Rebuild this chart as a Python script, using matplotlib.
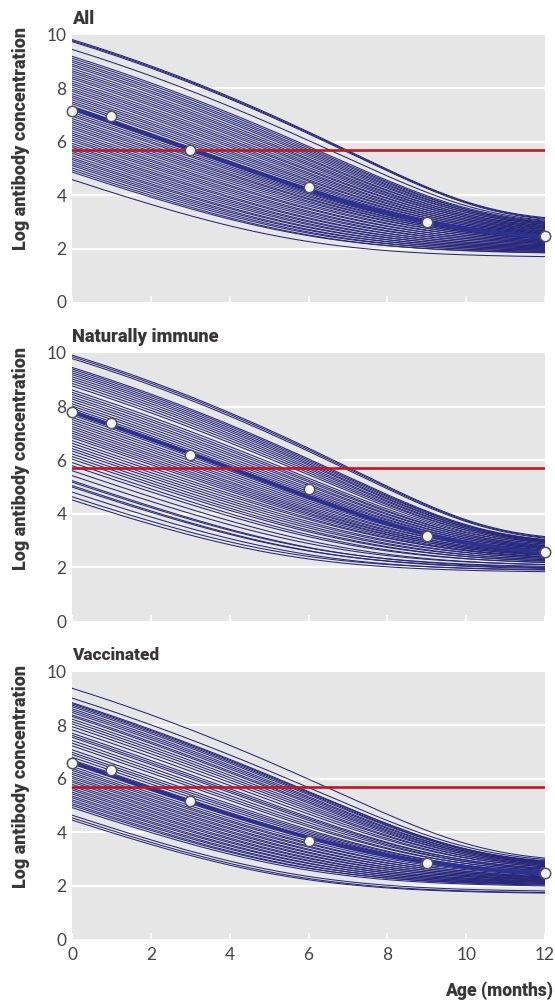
import re
import numpy as np
import matplotlib
matplotlib.use("Agg")
import matplotlib.pyplot as plt
from matplotlib import font_manager as fm
from matplotlib.ft2font import FT2Font

# ---------------- data ----------------
panel_titles = ["All", "Naturally immune", "Vaccinated"]

obs_ages = [0, 1, 3, 6, 9, 12]
obs_all = [7.15, 6.95, 5.68, 4.32, 3.00, 2.48]
obs_nat = [7.80, 7.40, 6.20, 4.92, 3.16, 2.56]
obs_vac = [6.60, 6.33, 5.17, 3.67, 2.86, 2.47]

threshold = 5.7

# individual curves: value at age 0 and at age 12
all_start = [9.83, 9.79, 9.75, 9.46, 9.20, 9.13, 9.05, 8.98, 8.90, 8.83, 8.74, 8.66, 8.59, 8.51,
             8.43, 8.36, 8.27, 8.19, 8.12, 8.04, 7.96, 7.89, 7.80, 7.72, 7.65, 7.57, 7.49, 7.42,
             7.33, 7.25, 7.18, 7.10, 7.02, 6.95, 6.86, 6.78, 6.71, 6.63, 6.55, 6.48, 6.39, 6.31,
             6.24, 6.16, 6.08, 6.01, 5.92, 5.84, 5.77, 5.69, 5.61, 5.54, 5.45, 5.37, 5.30, 5.22,
             5.14, 5.07, 4.98, 4.90, 4.82, 4.53]
all_end = [3.16, 3.13, 3.10, 3.06, 3.03, 2.98, 3.00, 2.94, 2.96, 2.90, 2.92, 2.85, 2.87, 2.81,
           2.83, 2.77, 2.79, 2.72, 2.75, 2.68, 2.71, 2.64, 2.66, 2.60, 2.62, 2.56, 2.58, 2.52,
           2.54, 2.47, 2.49, 2.43, 2.45, 2.39, 2.41, 2.35, 2.37, 2.30, 2.32, 2.26, 2.28, 2.22,
           2.24, 2.18, 2.20, 2.14, 2.15, 2.09, 2.11, 2.05, 2.07, 2.01, 2.03, 1.97, 1.99, 1.93,
           1.95, 1.89, 1.90, 1.84, 1.86, 1.70]

nat_start = [9.92, 9.86, 9.79, 9.46, 9.40, 9.33, 9.26, 9.19, 9.11, 9.03, 8.95, 8.86, 8.77, 8.62,
             8.53, 8.45, 8.36, 8.28, 8.19, 8.10, 8.02, 7.93, 7.85, 7.76, 7.68, 7.59, 7.51, 7.42,
             7.34, 7.25, 7.17, 7.08, 7.00, 6.91, 6.83, 6.72, 6.62, 6.52, 6.42, 6.33, 6.22, 6.12,
             6.02, 5.89, 5.77, 5.58, 5.39, 5.20, 5.14, 5.01, 4.95, 4.76, 4.57, 4.45]
nat_end = [3.15, 3.12, 3.09, 3.04, 3.01, 3.03, 2.98, 3.00, 2.95, 2.97, 2.91, 2.93, 2.87, 2.87,
           2.81, 2.83, 2.77, 2.79, 2.73, 2.75, 2.69, 2.71, 2.65, 2.66, 2.60, 2.62, 2.56, 2.58,
           2.52, 2.54, 2.48, 2.50, 2.44, 2.46, 2.40, 2.37, 2.39, 2.33, 2.34, 2.28, 2.29, 2.23,
           2.25, 2.18, 2.19, 2.10, 2.11, 2.01, 2.04, 1.96, 1.99, 1.90, 1.92, 1.84]

vac_start = [9.39, 9.02, 8.85, 8.81, 8.76, 8.70, 8.62, 8.55, 8.48, 8.39, 8.33, 8.23, 8.14, 8.05,
             7.95, 7.83, 7.70, 7.62, 7.55, 7.43, 7.33, 7.23, 7.08, 6.98, 6.90, 6.80, 6.70, 6.45,
             6.37, 6.30, 6.22, 6.15, 6.07, 6.00, 5.92, 5.85, 5.77, 5.70, 5.62, 5.55, 5.47, 5.40,
             5.32, 5.25, 5.17, 5.10, 5.02, 4.95, 4.87, 4.58, 4.48, 4.39]
vac_end = [3.03, 2.98, 2.90, 2.93, 2.88, 2.91, 2.85, 2.87, 2.82, 2.84, 2.78, 2.80, 2.74, 2.76,
           2.70, 2.71, 2.64, 2.66, 2.60, 2.62, 2.55, 2.57, 2.50, 2.51, 2.46, 2.47, 2.41, 2.39,
           2.33, 2.36, 2.30, 2.32, 2.26, 2.29, 2.23, 2.25, 2.20, 2.22, 2.16, 2.18, 2.13, 2.15,
           2.09, 2.12, 2.06, 2.08, 2.02, 2.05, 1.99, 1.80, 1.74, 1.72]

# population-average (bold) curves: start and end values
mean_start = [7.25, 7.80, 6.60]
mean_end = [2.45, 2.57, 2.47]

x_ticks = [0, 2, 4, 6, 8, 10, 12]
y_ticks = [0, 2, 4, 6, 8, 10]

# ---------------- decay model shape constants ----------------
BASE_RATE = 0.51
RATE_SLOPE = 0.023
CURV_SLOPE = 0.0068
T_END = 12.0


def decay_curve(start, end, t):
    a = BASE_RATE - RATE_SLOPE * max(0.0, start - 7.25)
    b = CURV_SLOPE * max(0.0, start - 6.6)
    lin = start - a * t - b * t ** 2
    lin_end = start - a * T_END - b * T_END ** 2
    floor = np.log(max(np.exp(end) - np.exp(lin_end), 1e-3))
    return np.logaddexp(lin, floor)


# ---------------- fonts ----------------
NAME_RE = re.compile(r"^(Noto Sans|Roboto|Lato|Open Sans|Inter)"
                     r"( (Semi|Extra|Ultra)?Condensed)?"
                     r"( (Black|ExtraBold|Extra Bold|Heavy|Bold|SemiBold))?$")


def _w(f):
    w = f.weight
    if isinstance(w, str):
        w = fm.weight_dict.get(w, 400)
    return int(w)


def _cond_rank(f):
    s = (str(f.stretch) + " " + f.name + " " + f.fname).lower()
    if "semicondensed" in s or "semi-condensed" in s or "semi condensed" in s:
        return 0
    if "extracondensed" in s or "extra-condensed" in s or "ultra" in s:
        return 3
    if "condensed" in s:
        return 1
    return 2


def _has_latin(fname):
    try:
        ft = FT2Font(fname)
        return all(ft.get_char_index(ord(c)) != 0 for c in "AaLgy(")
    except Exception:
        return False


def pick_heavy():
    bases = ["Noto Sans", "Roboto", "Lato", "Open Sans", "Inter"]
    cands = []
    for f in fm.fontManager.ttflist:
        m = NAME_RE.match(f.name)
        if not m:
            continue
        if "italic" in str(f.style).lower() or "italic" in f.fname.lower():
            continue
        if _w(f) < 800:
            continue
        if not _has_latin(f.fname):
            continue
        bi = bases.index(m.group(1))
        cands.append((_cond_rank(f), bi, abs(_w(f) - 900), f.fname))
    if cands:
        cands.sort()
        return fm.FontProperties(fname=cands[0][3])
    return fm.FontProperties(family=["Lato", "DejaVu Sans"], weight="bold")


heavy_fp = pick_heavy()
tick_fp = fm.FontProperties(family=["Lato", "DejaVu Sans"], weight="normal", size=12.5)

# ---------------- figure ----------------
W, H = 555, 1002
fig = plt.figure(figsize=(W / 100, H / 100), dpi=100)
renderer = fig.canvas.get_renderer()


def fit_text(xpx, ypx, s, target_px, rotation=0, **kw):
    fp = heavy_fp.copy()
    fp.set_size(12)
    txt = fig.text(xpx / W, 1 - ypx / H, s, fontproperties=fp, rotation=rotation, **kw)
    bb = txt.get_window_extent(renderer)
    cur = bb.height if rotation else bb.width
    fp2 = heavy_fp.copy()
    fp2.set_size(min(16, max(8, 12 * target_px / cur)))
    txt.set_fontproperties(fp2)
    return txt


dark = "#3a3536"
tickc = "#454545"
navy = "#27277a"
bold_blue = "#2c3192"
red = "#c8141e"

panels = [
    (all_start, all_end, obs_all),
    (nat_start, nat_end, obs_nat),
    (vac_start, vac_end, obs_vac),
]
tops = [35, 353, 672]
bots = [302, 621, 939]
title_y = [19, 337, 655]
title_w = [22, 146, 87]
ylabel_centers = [139, 458, 776]
left_px, right_px = 72, 545

t = np.linspace(0, 12, 200)

for i, (starts, ends, obs) in enumerate(panels):
    ax = fig.add_axes([left_px / W, 1 - bots[i] / H, (right_px - left_px) / W,
                       (bots[i] - tops[i]) / H])
    ax.set_facecolor("#e6e6e6")
    for s in ax.spines.values():
        s.set_visible(False)
    ax.set_xlim(0, 12)
    ax.set_ylim(0, 10)
    for g in [2, 4, 6, 8]:
        ax.axhline(g, color="white", lw=1.6, zorder=0.5)

    for s0, e0 in zip(starts, ends):
        ax.plot(t, decay_curve(s0, e0, t), color=navy, lw=0.75, zorder=2)
    ax.plot(t, decay_curve(mean_start[i], mean_end[i], t), color=bold_blue, lw=3.0,
            zorder=3, solid_capstyle="butt")

    ax.axhline(threshold, color=red, lw=1.9, zorder=4)
    ax.plot(obs_ages, obs, "o", ms=7.5, mfc="#f5f5f5", mec="#555555", mew=1.1,
            zorder=6, clip_on=False)

    ax.set_xticks(x_ticks)
    ax.set_yticks(y_ticks)
    ax.tick_params(axis="x", direction="in", color="white", length=4, width=1.2,
                   labelcolor=tickc, pad=6)
    ax.tick_params(axis="y", length=0, labelcolor=tickc, pad=4)
    for lab in ax.get_xticklabels() + ax.get_yticklabels():
        lab.set_fontproperties(tick_fp)
    if i < 2:
        ax.set_xticklabels([])

    fit_text(left_px, title_y[i], panel_titles[i], title_w[i], color=dark,
             ha="left", va="center")
    fit_text(21, ylabel_centers[i], "Log antibody concentration", 222, rotation=90,
             color=dark, ha="center", va="center")

fit_text(553, 991, "Age (months)", 108, color=dark, ha="right", va="center")

fig.savefig("out.png", dpi=100)
